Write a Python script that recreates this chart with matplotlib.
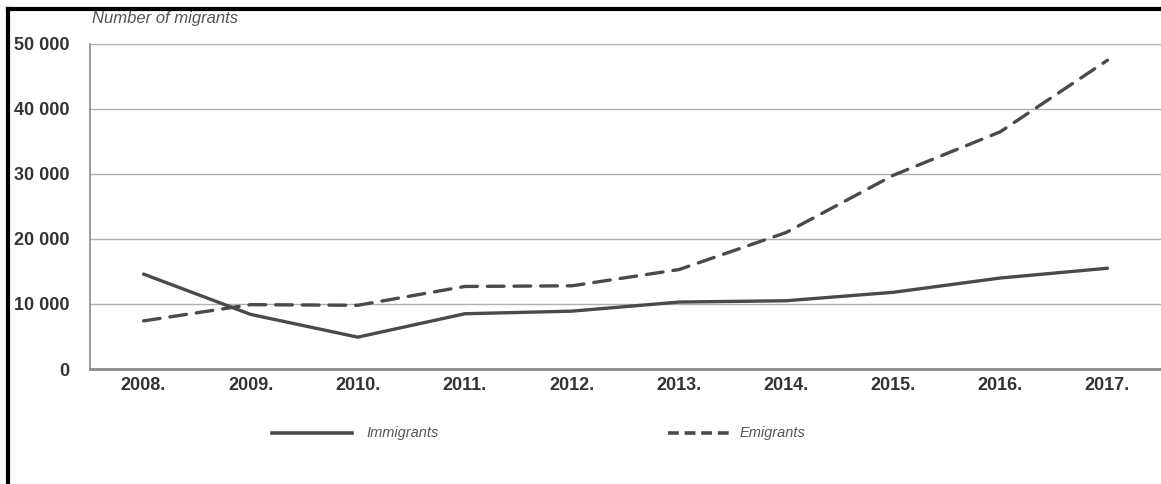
import matplotlib
matplotlib.use("Agg")
import matplotlib.pyplot as plt
from matplotlib.lines import Line2D
import numpy as np

years = ["2008.", "2009.", "2010.", "2011.", "2012.", "2013.", "2014.", "2015.", "2016.", "2017."]
immigrants = [14600, 8400, 4900, 8500, 8900, 10300, 10500, 11800, 14000, 15500]
emigrants = [7400, 9900, 9800, 12700, 12800, 15300, 21000, 29800, 36500, 47500]
yticks = [0, 10000, 20000, 30000, 40000, 50000]
ytick_labels = ["0", "10 000", "20 000", "30 000", "40 000", "50 000"]

plt.rcParams['font.family'] = ['Liberation Sans Narrow', 'Liberation Sans', 'DejaVu Sans']

line_col = '#4a4a4a'
fig = plt.figure(figsize=(11.61, 4.84), dpi=100)
ax = fig.add_axes([90/1161, 115/484, 1 - 90/1161, 325/484])

x = np.arange(len(years))
ax.plot(x, immigrants, color=line_col, lw=2.4, solid_capstyle='round')
ax.plot(x, emigrants, color=line_col, lw=2.4, dashes=(5, 3), dash_capstyle='round')

ax.set_xlim(-0.5, 9.5)
ax.set_ylim(0, 50000)
ax.set_yticks(yticks)
ax.set_yticklabels(ytick_labels, fontsize=13, fontweight='bold', color='#333333')
ax.set_xticks(x)
ax.set_xticklabels(years, fontsize=13, fontweight='bold', color='#333333')
ax.tick_params(axis='both', length=0)
ax.tick_params(axis='y', pad=15)
ax.tick_params(axis='x', pad=6)

for t in yticks[1:]:
    ax.axhline(t, color='#b0b0b0', lw=1.0, zorder=0)
for s in ['top', 'right']:
    ax.spines[s].set_visible(False)
ax.spines['left'].set_color('#8a8a8a')
ax.spines['left'].set_linewidth(1.2)
ax.spines['bottom'].set_color('#8a8a8a')
ax.spines['bottom'].set_linewidth(2.0)

fig.text(92/1161, 1 - 18/484, "Number of migrants", fontsize=12, style='italic',
         color='#555555', va='center', ha='left')

# legend drawn in figure coords
ly = 1 - 433/484
fig.add_artist(Line2D([272/1161, 352/1161], [ly, ly], color=line_col, lw=2.6,
                      transform=fig.transFigure))
fig.text(366/1161, ly, "Immigrants", fontsize=10.5, style='italic', color='#555555',
         va='center', ha='left')
fig.add_artist(Line2D([668/1161, 730/1161], [ly, ly], color=line_col, lw=2.6,
                      dashes=(3, 1.6), transform=fig.transFigure))
fig.text(740/1161, ly, "Emigrants", fontsize=10.5, style='italic', color='#555555',
         va='center', ha='left')

# black frame on left and top
fig.add_artist(Line2D([8/1161, 8/1161], [0, 1 - 9/484], color='black', lw=3,
                      transform=fig.transFigure))
fig.add_artist(Line2D([8/1161, 1], [1 - 9/484, 1 - 9/484], color='black', lw=3,
                      transform=fig.transFigure))

fig.savefig("out.png", dpi=100)
